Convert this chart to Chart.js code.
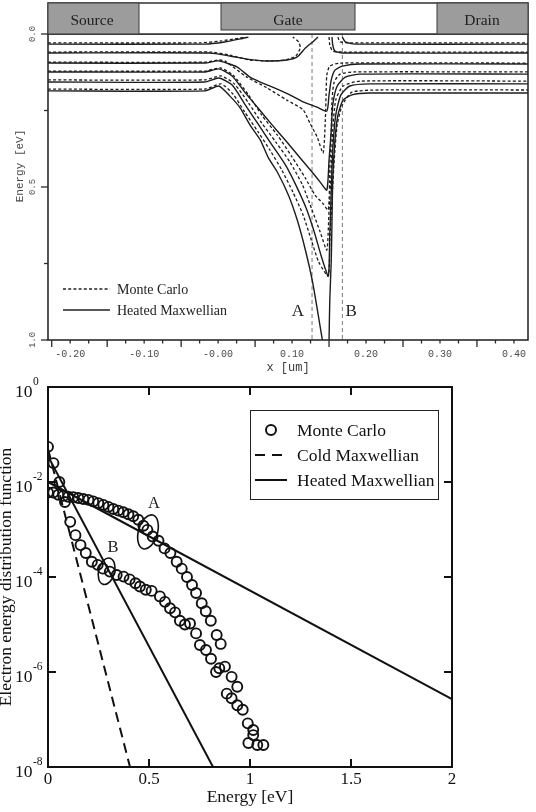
<!DOCTYPE html>
<html><head><meta charset="utf-8">
<script src="https://cdn.jsdelivr.net/npm/chart.js@4/dist/chart.umd.min.js"></script>
<style>
html,body{margin:0;padding:0;background:#fff;}
body{width:536px;height:812px;position:relative;overflow:hidden;}
#topWrap{position:absolute;left:0;top:0;width:536px;height:380px;}
#botWrap{position:absolute;left:0;top:370px;width:536px;height:442px;}
#ov{position:absolute;left:0;top:0;width:536px;height:812px;pointer-events:none;}
</style></head>
<body>
<div id="topWrap"><canvas id="topChart" width="536" height="380"></canvas></div>
<div id="botWrap"><canvas id="botChart" width="536" height="442"></canvas></div>
<svg id="ov" width="536" height="812" xmlns="http://www.w3.org/2000/svg" font-family="Liberation Serif, Times New Roman, serif">
  <!-- device header -->
  <rect x="48" y="3" width="480" height="31" fill="#fff" stroke="#333" stroke-width="1.5"/>
  <rect x="48" y="3" width="91" height="31" fill="#9c9c9c" stroke="#3a3a3a" stroke-width="1"/>
  <rect x="221" y="3" width="134" height="27" fill="#9c9c9c" stroke="#3a3a3a" stroke-width="1"/>
  <rect x="437" y="3" width="91" height="31" fill="#9c9c9c" stroke="#3a3a3a" stroke-width="1"/>
  <text x="92" y="19" font-size="15.5" fill="#1e1e1e" text-anchor="middle" dominant-baseline="central">Source</text>
  <text x="288" y="19.5" font-size="15.5" fill="#1e1e1e" text-anchor="middle" dominant-baseline="central">Gate</text>
  <text x="482" y="19.5" font-size="15.5" fill="#1e1e1e" text-anchor="middle" dominant-baseline="central">Drain</text>
  <!-- top legend -->
  <line x1="63" y1="289" x2="110" y2="289" stroke="#222" stroke-width="1.3" stroke-dasharray="3 2.2"/>
  <line x1="63" y1="310" x2="110" y2="310" stroke="#222" stroke-width="1.4"/>
  <text x="117" y="289" font-size="14" fill="#222" dominant-baseline="central">Monte Carlo</text>
  <text x="117" y="310" font-size="14" fill="#222" dominant-baseline="central">Heated Maxwellian</text>
  <!-- bottom legend -->
  <rect x="250.5" y="410.5" width="188" height="89" fill="#fff" stroke="#222" stroke-width="1"/>
  <circle cx="271" cy="430" r="5" fill="none" stroke="#111" stroke-width="2"/>
  <line x1="255" y1="455" x2="283" y2="455" stroke="#111" stroke-width="2" stroke-dasharray="10 7"/>
  <line x1="255" y1="480" x2="287" y2="480" stroke="#111" stroke-width="2"/>
  <text x="297" y="430" font-size="17.5" fill="#111" dominant-baseline="central">Monte Carlo</text>
  <text x="297" y="455" font-size="17.5" fill="#111" dominant-baseline="central">Cold Maxwellian</text>
  <text x="297" y="480" font-size="17.5" fill="#111" dominant-baseline="central">Heated Maxwellian</text>
</svg>
<script>
// ================= TOP PANEL DATA (x [um], Energy [eV]) =================
const topXTickValues = [-0.2, -0.1, 0, 0.1, 0.2, 0.3, 0.4];
const topXTickLabels = ['-0.20', '-0.10', '-0.00', '0.10', '0.20', '0.30', '0.40'];
const topXLongTicks  = [-0.225, -0.15, -0.05, 0.05, 0.15, 0.25, 0.35];
const topYTickValues = [0, 0.5, 1.0];
const topYTickLabels = ['0.0', '0.5', '1.0'];
const topYMinorTicks = [0.25, 0.75];

// Heated Maxwellian contours (solid)
const hm1  = [[-0.230,0.033],[-0.018,0.033],[0.009,0.026],[0.030,0.016],[0.041,0.010]];
const hm1r = [[0.168,0.010],[0.172,0.026],[0.185,0.033],[0.419,0.033]];
const hm2  = [[-0.230,0.062],[-0.011,0.062],[0.016,0.072],[0.039,0.082],[0.066,0.088],[0.093,0.085],[0.107,0.075],[0.118,0.046],[0.128,0.026],[0.135,0.010]];
const hm2r = [[0.154,0.010],[0.155,0.036],[0.158,0.056],[0.168,0.062],[0.419,0.062]];
const hm3  = [[-0.230,0.095],[-0.018,0.095],[0.000,0.088],[0.026,0.108],[0.043,0.141],[0.057,0.157],[0.080,0.180],[0.097,0.199],[0.115,0.222],[0.134,0.239],[0.147,0.252],[0.150,0.199],[0.153,0.150],[0.158,0.118],[0.168,0.105],[0.192,0.098],[0.419,0.098]];
const hm4  = [[-0.230,0.124],[-0.018,0.124],[0.001,0.114],[0.019,0.137],[0.036,0.190],[0.054,0.242],[0.073,0.297],[0.093,0.353],[0.111,0.405],[0.127,0.451],[0.138,0.484],[0.147,0.510],[0.150,0.412],[0.153,0.314],[0.155,0.232],[0.161,0.170],[0.172,0.141],[0.192,0.131],[0.419,0.131]];
const hm5  = [[-0.230,0.157],[-0.018,0.157],[0.001,0.144],[0.019,0.167],[0.036,0.229],[0.054,0.294],[0.073,0.363],[0.091,0.428],[0.105,0.493],[0.119,0.569],[0.130,0.647],[0.139,0.722],[0.149,0.791],[0.151,0.657],[0.153,0.510],[0.155,0.379],[0.159,0.265],[0.166,0.199],[0.178,0.170],[0.205,0.163],[0.419,0.163]];
const hm6  = [[-0.230,0.186],[-0.018,0.186],[0.001,0.170],[0.016,0.203],[0.030,0.242],[0.043,0.297],[0.057,0.346],[0.068,0.405],[0.080,0.451],[0.095,0.526],[0.107,0.608],[0.118,0.706],[0.128,0.814],[0.141,1.000]];
const hm6r = [[0.150,1.000],[0.151,0.869],[0.153,0.739],[0.154,0.608],[0.155,0.477],[0.158,0.346],[0.162,0.265],[0.169,0.216],[0.181,0.199],[0.205,0.193],[0.419,0.193]];

// Monte Carlo contours (dashed)
const mc1  = [[-0.230,0.029],[-0.024,0.029],[0.003,0.023],[0.030,0.013],[0.036,0.010]];
const mc1r = [[0.162,0.010],[0.165,0.026],[0.178,0.029],[0.419,0.029]];
const mc2  = [[-0.230,0.059],[-0.011,0.059],[0.016,0.069],[0.043,0.085],[0.070,0.088],[0.091,0.085],[0.105,0.072],[0.111,0.046],[0.109,0.026],[0.101,0.010]];
const mc2r = [[0.150,0.010],[0.151,0.036],[0.155,0.056],[0.172,0.059],[0.419,0.059]];
const mc3  = [[-0.230,0.092],[-0.018,0.092],[0.001,0.085],[0.009,0.088],[0.039,0.141],[0.066,0.176],[0.093,0.216],[0.115,0.248],[0.124,0.291],[0.134,0.337],[0.142,0.389],[0.145,0.281],[0.146,0.199],[0.147,0.134],[0.151,0.105],[0.165,0.095],[0.419,0.095]];
const mc4  = [[-0.230,0.121],[-0.018,0.121],[0.003,0.111],[0.020,0.134],[0.041,0.199],[0.059,0.265],[0.080,0.330],[0.100,0.402],[0.118,0.471],[0.131,0.526],[0.141,0.552],[0.149,0.575],[0.151,0.444],[0.153,0.314],[0.154,0.216],[0.157,0.157],[0.165,0.131],[0.185,0.124],[0.419,0.124]];
const mc5  = [[-0.230,0.150],[-0.018,0.150],[0.004,0.137],[0.022,0.163],[0.041,0.225],[0.059,0.291],[0.078,0.353],[0.097,0.418],[0.114,0.493],[0.127,0.575],[0.138,0.647],[0.147,0.706],[0.150,0.575],[0.153,0.444],[0.155,0.314],[0.159,0.216],[0.169,0.170],[0.192,0.154],[0.419,0.154]];
const mc6  = [[-0.230,0.180],[-0.018,0.180],[0.004,0.163],[0.020,0.196],[0.036,0.255],[0.054,0.320],[0.070,0.379],[0.086,0.444],[0.101,0.516],[0.115,0.592],[0.126,0.673],[0.136,0.745],[0.149,0.791],[0.151,0.673],[0.154,0.542],[0.157,0.412],[0.161,0.297],[0.168,0.232],[0.181,0.190],[0.219,0.183],[0.419,0.183]];

// Cut lines A and B
const cutA = [[0.127,0],[0.127,1]];
const cutB = [[0.168,0],[0.168,1]];
const cutLabels = [['A',0.108,0.908],['B',0.180,0.908]];

// ================= BOTTOM PANEL DATA (Energy [eV], EEDF) =================
const botXTickValues = [0, 0.5, 1, 1.5, 2];
const botXTickLabels = ['0', '0.5', '1', '1.5', '2'];
const botYTickValues = [1, 1e-2, 1e-4, 1e-6, 1e-8];

// Monte Carlo, point A
const mcAEnergy = [0,0.026,0.051,0.076,0.1,0.125,0.15,0.175,0.2,0.224,0.249,0.274,0.299,0.323,0.348,0.373,0.398,0.422,0.447,0.472,0.492,0.518,0.547,0.577,0.606,0.637,0.662,0.688,0.713,0.733,0.761,0.781,0.806,0.835,0.855,0.876,0.909,0.937,0.989,1.016,1.036,1.066];
const mcAValue  = [6.0e-3,6.0e-3,5.4e-3,5.1e-3,4.9e-3,4.8e-3,4.6e-3,4.4e-3,4.2e-3,3.9e-3,3.6e-3,3.3e-3,3.0e-3,2.7e-3,2.5e-3,2.3e-3,2.1e-3,1.9e-3,1.6e-3,1.2e-3,9.8e-4,7.1e-4,5.8e-4,4.0e-4,3.2e-4,2.1e-4,1.5e-4,1.0e-4,6.8e-5,4.6e-5,2.8e-5,1.9e-5,1.2e-5,6.0e-6,3.9e-6,1.3e-6,7.9e-7,4.9e-7,8.3e-8,6.0e-8,2.9e-8,2.9e-8];
// Monte Carlo, point B
const mcBEnergy = [0,0.027,0.056,0.084,0.11,0.136,0.161,0.187,0.217,0.246,0.272,0.306,0.34,0.374,0.404,0.433,0.455,0.484,0.513,0.554,0.579,0.604,0.629,0.653,0.678,0.703,0.733,0.752,0.782,0.807,0.832,0.848,0.885,0.909,0.937,0.964,0.992,1.016];
const mcBValue  = [5.5e-2,2.5e-2,1.0e-2,3.8e-3,1.45e-3,7.6e-4,4.7e-4,3.2e-4,2.1e-4,1.8e-4,1.5e-4,1.3e-4,1.1e-4,1.02e-4,8.9e-5,7.4e-5,6.3e-5,5.4e-5,5.1e-5,3.9e-5,3.0e-5,2.2e-5,1.8e-5,1.2e-5,1.0e-5,1.05e-5,6.5e-6,3.7e-6,2.9e-6,1.9e-6,1.0e-6,1.2e-6,3.5e-7,2.8e-7,2.0e-7,1.6e-7,3.2e-8,4.7e-8];
// Maxwellian fits (end points of straight lines on log scale)
const coldMaxwellian   = [[0, 5.0e-2], [0.406, 1e-8]];
const heatedMaxwellA   = [[0, 1.0e-2], [2.0, 2.7e-7]];
const heatedMaxwellB   = [[0, 3.5e-2], [0.817, 1e-8]];
// Ellipse annotations & labels (data coordinates)
const ellipseCenters = [[0.495, 8.9e-4], [0.290, 1.32e-4]];
const ellipseLabels  = [['A', 0.525, 3.5e-3], ['B', 0.322, 4.1e-4]];

// ================= helpers =================
const toPts = arr => arr.map(([x, y]) => ({x, y}));
const zip = (xs, ys) => xs.map((x, i) => ({x, y: ys[i]}));
const near = (a, b) => Math.abs(a - b) < 1e-6;

// ================= TOP CHART =================
const lineCol = '#1c1c1c';
const mcSet = c => ({data: toPts(c), showLine: true, borderColor: lineCol, borderWidth: 1.3, borderDash: [3, 2.2], pointRadius: 0, tension: 0.2, fill: false});
const hmSet = c => ({data: toPts(c), showLine: true, borderColor: lineCol, borderWidth: 1.4, pointRadius: 0, tension: 0.2, fill: false});
const cutSet = c => ({data: toPts(c), showLine: true, borderColor: '#7a7a7a', borderWidth: 1, borderDash: [4, 3], pointRadius: 0, fill: false});

const topDeco = {
  id: 'topDeco',
  afterDraw(chart) {
    const {ctx, chartArea: a, scales: {x, y}} = chart;
    ctx.save();
    ctx.strokeStyle = '#2a2a2a';
    ctx.lineWidth = 1.3;
    x.ticks.forEach(t => {
      const px = x.getPixelForValue(t.value);
      const long = topXLongTicks.some(v => near(v, t.value));
      ctx.beginPath(); ctx.moveTo(px, a.bottom); ctx.lineTo(px, a.bottom + (long ? 7 : 3.5)); ctx.stroke();
    });
    y.ticks.forEach(t => {
      const py = y.getPixelForValue(t.value);
      const long = topYTickValues.some(v => near(v, t.value));
      ctx.beginPath(); ctx.moveTo(a.left, py); ctx.lineTo(a.left - (long ? 7 : 4), py); ctx.stroke();
    });
    ctx.lineWidth = 1.6;
    ctx.strokeRect(a.left, a.top, a.right - a.left, a.bottom - a.top);
    // cut labels
    ctx.fillStyle = '#222';
    ctx.font = '17px "Liberation Serif", serif';
    ctx.textAlign = 'center'; ctx.textBaseline = 'middle';
    cutLabels.forEach(([s, vx, vy]) => ctx.fillText(s, x.getPixelForValue(vx), y.getPixelForValue(vy)));
    // y title
    ctx.translate(20, 166); ctx.rotate(-Math.PI / 2);
    ctx.font = '11px "Liberation Mono", monospace';
    ctx.fillStyle = '#4a4a4a';
    ctx.fillText('Energy [eV]', 0, 0);
    ctx.restore();
  }
};

new Chart(document.getElementById('topChart'), {
  type: 'scatter',
  data: {
    datasets: [
      ...[mc1, mc1r, mc2, mc2r, mc3, mc4, mc5, mc6].map(mcSet),
      ...[hm1, hm1r, hm2, hm2r, hm3, hm4, hm5, hm6, hm6r].map(hmSet),
      cutSet(cutA), cutSet(cutB)
    ]
  },
  options: {
    responsive: false, animation: false, devicePixelRatio: 1,
    layout: {padding: {left: 0, right: 8, top: 34, bottom: 0}},
    plugins: {legend: {display: false}, tooltip: {enabled: false}},
    scales: {
      x: {
        type: 'linear', min: -0.23, max: 0.419,
        afterBuildTicks: s => {
          const t = [];
          for (let i = 0; i <= 25; i++) t.push({value: Math.round((-0.225 + i * 0.025) * 1000) / 1000});
          s.ticks = t;
        },
        afterFit: s => { s.height = 40; },
        grid: {display: false, drawTicks: true, tickLength: 7},
        border: {display: false},
        ticks: {
          autoSkip: false, maxRotation: 0, padding: 1.5,
          color: '#4a4a4a', font: {family: '"Liberation Mono", monospace', size: 10},
          callback: v => { const i = topXTickValues.findIndex(w => near(w, v)); return i >= 0 ? topXTickLabels[i] : ''; }
        },
        title: {display: true, text: 'x [um]', color: '#3a3a3a', font: {family: '"Liberation Mono", monospace', size: 12}, padding: {top: 0, bottom: 5}}
      },
      y: {
        type: 'linear', min: 0, max: 1, reverse: true,
        afterBuildTicks: s => { s.ticks = [0, 0.25, 0.5, 0.75, 1].map(v => ({value: v})); },
        afterFit: s => { s.width = 48; },
        grid: {display: false, drawTicks: true, tickLength: 6},
        border: {display: false},
        ticks: {
          autoSkip: false, minRotation: 90, maxRotation: 90, crossAlign: 'center', padding: 1,
          color: '#555', font: {family: '"Liberation Mono", monospace', size: 9},
          callback: v => { const i = topYTickValues.findIndex(w => near(w, v)); return i >= 0 ? topYTickLabels[i] : ''; }
        }
      }
    }
  },
  plugins: [topDeco]
});

// ================= BOTTOM CHART =================
const botDeco = {
  id: 'botDeco',
  afterDraw(chart) {
    const {ctx, chartArea: a, scales: {x, y}} = chart;
    ctx.save();
    ctx.strokeStyle = '#111'; ctx.lineWidth = 2;
    botXTickValues.forEach(v => {
      if (v === botXTickValues[0] || v === botXTickValues[botXTickValues.length - 1]) return;
      const px = x.getPixelForValue(v);
      ctx.beginPath(); ctx.moveTo(px, a.bottom); ctx.lineTo(px, a.bottom - 8); ctx.stroke();
      ctx.beginPath(); ctx.moveTo(px, a.top); ctx.lineTo(px, a.top + 8); ctx.stroke();
    });
    botYTickValues.forEach(v => {
      if (v === 1 || v === 1e-8) return;
      const py = y.getPixelForValue(v);
      ctx.beginPath(); ctx.moveTo(a.left, py); ctx.lineTo(a.left + 8, py); ctx.stroke();
      ctx.beginPath(); ctx.moveTo(a.right, py); ctx.lineTo(a.right - 8, py); ctx.stroke();
    });
    ctx.strokeRect(a.left, a.top, a.right - a.left, a.bottom - a.top);
    // ellipses
    ctx.lineWidth = 1.6;
    const ell = [[9.5, 17.5, 0.28], [8, 13.5, 0.25]];
    ellipseCenters.forEach(([ex, ey], i) => {
      ctx.beginPath();
      ctx.ellipse(x.getPixelForValue(ex), y.getPixelForValue(ey), ell[i][0], ell[i][1], ell[i][2], 0, Math.PI * 2);
      ctx.stroke();
    });
    ctx.fillStyle = '#222';
    ctx.font = '16.5px "Liberation Serif", serif';
    ctx.textAlign = 'center'; ctx.textBaseline = 'middle';
    ellipseLabels.forEach(([s, ex, ey]) => ctx.fillText(s, x.getPixelForValue(ex), y.getPixelForValue(ey)));
    // y tick labels 10^n
    ctx.fillStyle = '#111';
    botYTickValues.forEach(v => {
      const py = y.getPixelForValue(v);
      const e = Math.round(Math.log10(v));
      ctx.font = '17.5px "Liberation Serif", serif';
      ctx.textAlign = 'right'; ctx.textBaseline = 'middle';
      ctx.fillText('10', 32.5, py + 5);
      ctx.font = '11.5px "Liberation Serif", serif';
      ctx.textAlign = 'left';
      ctx.fillText(String(e), 33, py - 5);
    });
    ctx.restore();
  }
};

new Chart(document.getElementById('botChart'), {
  type: 'scatter',
  data: {
    datasets: [
      {label: 'Monte Carlo', data: zip(mcAEnergy, mcAValue), showLine: false, pointRadius: 5, pointBorderWidth: 1.9, pointBorderColor: '#111', pointBackgroundColor: 'rgba(0,0,0,0)'},
      {label: 'Monte Carlo', data: zip(mcBEnergy, mcBValue), showLine: false, pointRadius: 5, pointBorderWidth: 1.9, pointBorderColor: '#111', pointBackgroundColor: 'rgba(0,0,0,0)'},
      {label: 'Cold Maxwellian', data: toPts(coldMaxwellian), showLine: true, borderColor: '#111', borderWidth: 2, borderDash: [10, 6], pointRadius: 0},
      {label: 'Heated Maxwellian', data: toPts(heatedMaxwellA), showLine: true, borderColor: '#111', borderWidth: 2, pointRadius: 0},
      {label: 'Heated Maxwellian', data: toPts(heatedMaxwellB), showLine: true, borderColor: '#111', borderWidth: 2, pointRadius: 0}
    ]
  },
  options: {
    responsive: false, animation: false, devicePixelRatio: 1,
    layout: {padding: {left: 0, right: 84, top: 17, bottom: 0}},
    plugins: {legend: {display: false}, tooltip: {enabled: false}},
    scales: {
      x: {
        type: 'linear', min: 0, max: 2,
        afterBuildTicks: s => { s.ticks = botXTickValues.map(v => ({value: v})); },
        afterFit: s => { s.height = 45; },
        grid: {display: false, drawTicks: false},
        border: {display: false},
        ticks: {
          autoSkip: false, maxRotation: 0, padding: 2, color: '#111',
          font: {family: '"Liberation Serif", serif', size: 17},
          callback: v => { const i = botXTickValues.findIndex(w => near(w, v)); return i >= 0 ? botXTickLabels[i] : ''; }
        },
        title: {display: true, text: 'Energy [eV]', color: '#111', font: {family: '"Liberation Serif", serif', size: 17.5, lineHeight: 1}, padding: {top: 0, bottom: 6}}
      },
      y: {
        type: 'logarithmic', min: 1e-8, max: 1,
        afterBuildTicks: s => { s.ticks = botYTickValues.map(v => ({value: v})); },
        afterFit: s => { s.width = 48; },
        grid: {display: false, drawTicks: false},
        border: {display: false},
        ticks: {display: false},
        title: {display: true, text: 'Electron energy distribution function', color: '#111', font: {family: '"Liberation Serif", serif', size: 17.5, lineHeight: 1}, padding: {top: -2, bottom: 0}}
      }
    }
  },
  plugins: [botDeco]
});
</script>
</body></html>
